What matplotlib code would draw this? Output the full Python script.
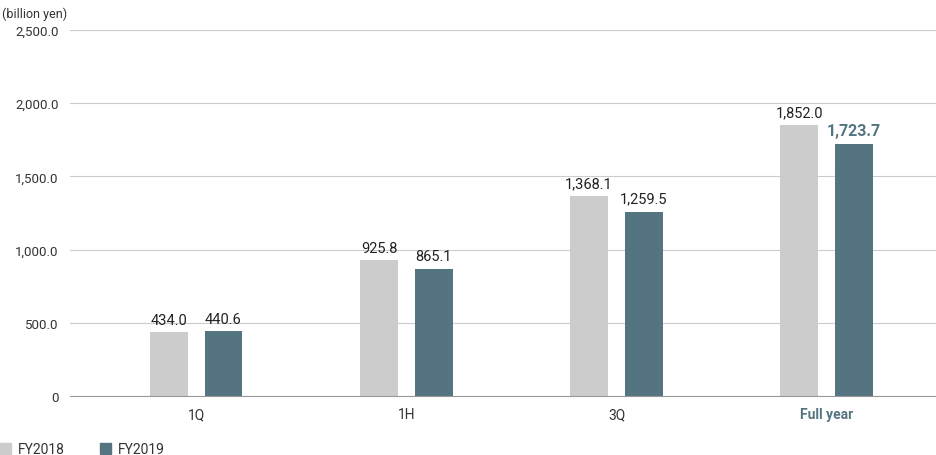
import matplotlib.pyplot as plt
import numpy as np
from matplotlib.patches import Rectangle

categories = ['1Q', '1H', '3Q', 'Full year']
fy2018 = [434.0, 925.8, 1368.1, 1852.0]
fy2019 = [440.6, 865.1, 1259.5, 1723.7]
yticks = [0, 500, 1000, 1500, 2000, 2500]
ytick_labels = ['0', '500.0', '1,000.0', '1,500.0', '2,000.0', '2,500.0']

grey = '#cccccc'
blue = '#557482'
plt.rcParams['font.family'] = 'Roboto'

fig = plt.figure(figsize=(9.36, 4.56), dpi=100)
ax = fig.add_axes([70 / 936, 59 / 456, 866 / 936, 366 / 456])
x = np.arange(len(categories))
w = 0.18
off = 0.13
ax.bar(x - off, fy2018, w, color=grey)
ax.bar(x + off, fy2019, w, color=blue)
for i in range(len(categories)):
    last = i == len(categories) - 1
    ax.text(x[i] - off, fy2018[i] + 40, f'{fy2018[i]:,.1f}', ha='center', va='bottom',
            fontsize=10.5, color='#222222')
    ax.text(x[i] + off, fy2019[i] + 40, f'{fy2019[i]:,.1f}', ha='center', va='bottom',
            fontsize=11.5 if last else 10.5, color=blue if last else '#222222',
            fontweight='bold' if last else 'normal')

ax.set_xlim(-0.6, 3.52)
ax.set_ylim(0, 2500)
ax.set_yticks(yticks)
ax.set_yticklabels(ytick_labels, fontsize=9.5, color='#333333')
ax.set_xticks(x)
ax.set_xticklabels(categories, fontsize=10, color='#333333')
ax.get_xticklabels()[-1].set_fontweight('bold')
ax.get_xticklabels()[-1].set_color(blue)
ax.tick_params(length=0, pad=8)
ax.grid(axis='y', color='#cccccc', linewidth=0.8)
ax.set_axisbelow(True)
for s in ['top', 'right', 'left']:
    ax.spines[s].set_visible(False)
ax.spines['bottom'].set_color('#999999')

fig.text(2 / 936, 1 - 14 / 456, '(billion yen)', fontsize=9, color='#333333', va='center')
for lx, col, lab in [(0, grey, 'FY2018'), (100, blue, 'FY2019')]:
    fig.patches.append(Rectangle((lx / 936, 1 - 455 / 456), 11 / 936, 11 / 456,
                                 transform=fig.transFigure, color=col))
    fig.text((lx + 18) / 936, 1 - 450 / 456, lab, fontsize=10, color='#333333', va='center')

fig.savefig('out.png', dpi=100)
